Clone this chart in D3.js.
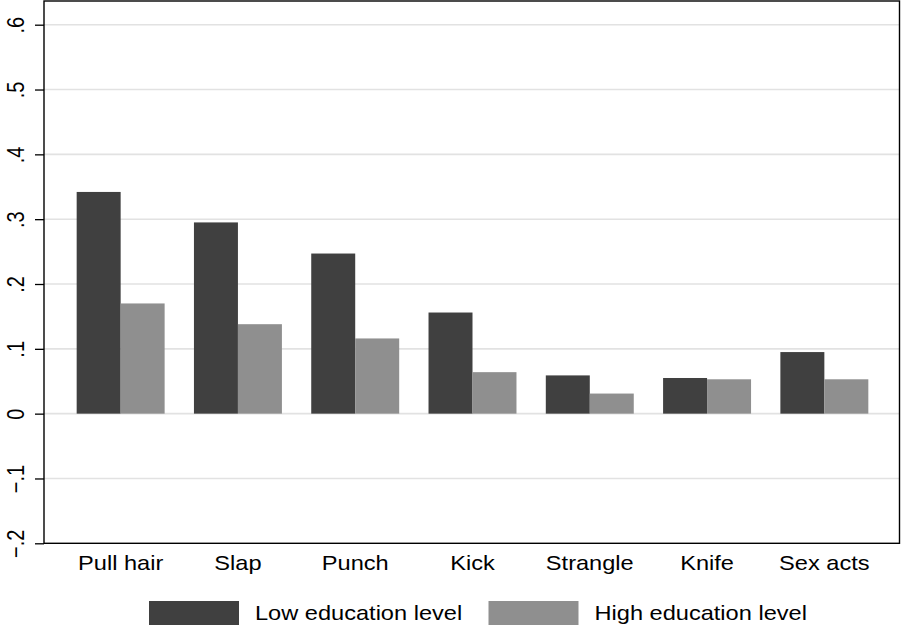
<!DOCTYPE html>
<html>
<head>
<meta charset="utf-8">
<script src="https://cdn.jsdelivr.net/npm/d3@7"></script>
<style>
  body { margin: 0; background: #fff; }
  text { font-family: "Liberation Sans", Arial, sans-serif; fill: #000; }
</style>
</head>
<body>
<div id="chart"></div>
<script>
// data
const categories = ["Pull hair", "Slap", "Punch", "Kick", "Strangle", "Knife", "Sex acts"];
const lowEdu = [0.342, 0.295, 0.247, 0.156, 0.059, 0.055, 0.095];
const highEdu = [0.170, 0.138, 0.116, 0.064, 0.031, 0.053, 0.053];
const seriesNames = ["Low education level", "High education level"];
const yTicks = [-0.2, -0.1, 0, 0.1, 0.2, 0.3, 0.4, 0.5, 0.6];
const yTickLabels = ["\u2212.2", "\u2212.1", "0", ".1", ".2", ".3", ".4", ".5", ".6"];

const width = 901, height = 626;
const plotL = 44, plotR = 899.5, plotT = 1, plotB = 543.3;
const stretch = 1.18; // the picture's text is a bit wide
const colors = ["#404040", "#8f8f8f"];

const svg = d3.select("#chart").append("svg")
	.attr("width", width).attr("height", height);

const y = d3.scaleLinear().domain([-0.2, 0.6]).range([plotB, 24.7]);
const x = d3.scaleBand().domain(categories).range([45, 900])
	.paddingInner(0.25).paddingOuter(0.27);
const xs = d3.scaleBand().domain([0, 1]).range([0, x.bandwidth()]);

// grid
svg.append("g").selectAll("line")
	.data(yTicks.slice(1))
	.join("line")
	.attr("x1", plotL).attr("x2", plotR)
	.attr("y1", d => y(d)).attr("y2", d => y(d))
	.attr("stroke", "#e2e2e2").attr("stroke-width", 1.6);

// bars
const rows = categories.map((c, i) => ({cat: c, vals: [lowEdu[i], highEdu[i]]}));
svg.append("g").selectAll("g")
	.data(rows)
	.join("g")
	.attr("transform", d => `translate(${x(d.cat)},0)`)
	.selectAll("rect")
	.data(d => d.vals.map((v, k) => ({v, k})))
	.join("rect")
	.attr("x", d => xs(d.k))
	.attr("width", xs.bandwidth())
	.attr("y", d => y(Math.max(0, d.v)))
	.attr("height", d => Math.abs(y(d.v) - y(0)))
	.attr("fill", d => colors[d.k]);

// frame
svg.append("rect")
	.attr("x", plotL).attr("y", plotT)
	.attr("width", plotR - plotL).attr("height", plotB - plotT)
	.attr("fill", "none").attr("stroke", "#000").attr("stroke-width", 1.4);

// y axis
const yAxis = svg.append("g")
	.attr("transform", `translate(${plotL},0)`)
	.call(d3.axisLeft(y).tickValues(yTicks).tickSize(9)
		.tickFormat((d, i) => yTickLabels[i]));
yAxis.select(".domain").remove();
yAxis.attr("font-family", null).attr("font-size", null);
yAxis.selectAll(".tick line").attr("stroke", "#000").attr("stroke-width", 1.3);
yAxis.selectAll(".tick text")
	.attr("x", null).attr("dy", null)
	.attr("font-size", 20)
	.attr("fill", "#000")
	.attr("text-anchor", "middle")
	.attr("transform", `translate(-20,0) scale(${stretch},1) rotate(-90)`);

// x labels
svg.append("g").selectAll("text")
	.data(categories)
	.join("text")
	.attr("transform", d => `translate(${x(d) + x.bandwidth() / 2},570) scale(${stretch},1)`)
	.attr("text-anchor", "middle")
	.attr("font-size", 20)
	.text(d => d);

// legend
const legX = [149, 488.5];
const leg = svg.append("g").selectAll("g")
	.data(seriesNames)
	.join("g")
	.attr("transform", (d, i) => `translate(${legX[i]},601)`);
leg.append("rect")
	.attr("width", 90).attr("height", 24)
	.attr("fill", (d, i) => colors[i]);
leg.append("text")
	.attr("transform", `translate(106,18.5) scale(${stretch},1)`)
	.attr("font-size", 20)
	.text(d => d);
</script>
</body>
</html>
